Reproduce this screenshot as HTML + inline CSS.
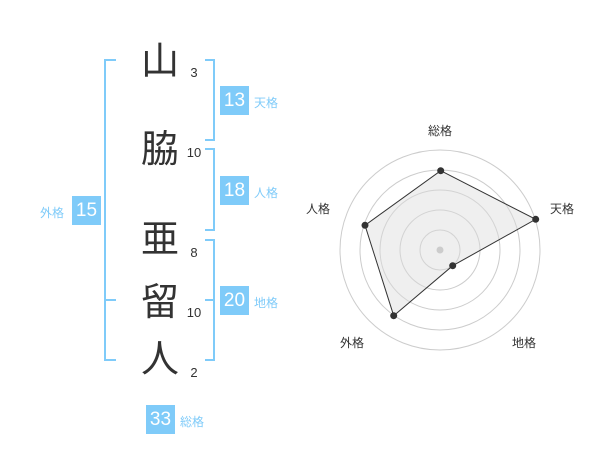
<!DOCTYPE html>
<html><head><meta charset="utf-8"><style>
body{margin:0;width:600px;height:470px;background:#fff;position:relative;overflow:hidden;font-family:"Liberation Sans","Noto Sans CJK JP",sans-serif}
.a{position:absolute}
.k{position:absolute;font-size:38px;color:#333;width:50px;text-align:center;left:135px;line-height:40px}
.n{position:absolute;font-size:13px;color:#333;left:186px;width:16px;text-align:center;line-height:14px}
.b{position:absolute;width:29px;height:29px;background:#7fcbf9;color:#fff;font-size:19px;text-align:center;line-height:29px}
.l{position:absolute;font-size:12px;color:#7fcbf9;line-height:14px}
.ln{position:absolute;background:#7fcbf9}
</style></head><body>
<div class="k" style="top:42px">山</div>
<div class="k" style="top:130px">脇</div>
<div class="k" style="top:220px">亜</div>
<div class="k" style="top:283px">留</div>
<div class="k" style="top:340px">人</div>
<div class="n" style="top:66px">3</div>
<div class="n" style="top:146px">10</div>
<div class="n" style="top:246px">8</div>
<div class="n" style="top:306px">10</div>
<div class="n" style="top:366px">2</div>
<!-- left bracket -->
<div class="ln" style="left:104px;top:59px;width:2px;height:302px"></div>
<div class="ln" style="left:104px;top:59px;width:12px;height:2px"></div>
<div class="ln" style="left:104px;top:299px;width:12px;height:2px"></div>
<div class="ln" style="left:104px;top:359px;width:12px;height:2px"></div>
<!-- right brackets -->
<div class="ln" style="left:213px;top:59px;width:2px;height:82px"></div>
<div class="ln" style="left:205px;top:59px;width:10px;height:2px"></div>
<div class="ln" style="left:205px;top:139px;width:10px;height:2px"></div>
<div class="ln" style="left:213px;top:148px;width:2px;height:83px"></div>
<div class="ln" style="left:205px;top:148px;width:10px;height:2px"></div>
<div class="ln" style="left:205px;top:229px;width:10px;height:2px"></div>
<div class="ln" style="left:213px;top:239px;width:2px;height:122px"></div>
<div class="ln" style="left:205px;top:239px;width:10px;height:2px"></div>
<div class="ln" style="left:205px;top:299px;width:10px;height:2px"></div>
<div class="ln" style="left:205px;top:359px;width:10px;height:2px"></div>
<div class="b" style="left:220px;top:86px">13</div><div class="l" style="left:254px;top:96px">天格</div>
<div class="b" style="left:220px;top:176px">18</div><div class="l" style="left:254px;top:186px">人格</div>
<div class="b" style="left:220px;top:286px">20</div><div class="l" style="left:254px;top:296px">地格</div>
<div class="b" style="left:72px;top:196px">15</div><div class="l" style="left:40px;top:206px">外格</div>
<div class="b" style="left:146px;top:405px">33</div><div class="l" style="left:180px;top:415px">総格</div>
<svg class="a" style="left:0;top:0" width="600" height="470">
<g fill="none" stroke="#ccc" stroke-width="1">
<circle cx="440" cy="250" r="20"/><circle cx="440" cy="250" r="40"/><circle cx="440" cy="250" r="60"/><circle cx="440" cy="250" r="80"/><circle cx="440" cy="250" r="100"/>
</g>
<polygon points="440.7,170.7 535.7,219.3 452.7,265.7 393.7,315.7 365,225.3" fill="rgba(220,220,220,0.45)" stroke="#333" stroke-width="1"/>
<circle cx="440" cy="250" r="3.5" fill="#ccc"/>
<g fill="#333"><circle cx="440.7" cy="170.7" r="3.5"/><circle cx="535.7" cy="219.3" r="3.5"/><circle cx="452.7" cy="265.7" r="3.5"/><circle cx="393.7" cy="315.7" r="3.5"/><circle cx="365" cy="225.3" r="3.5"/></g>
<g font-size="12" fill="#333" text-anchor="middle" font-family="Liberation Sans,Noto Sans CJK JP,sans-serif">
<text x="440" y="135">総格</text><text x="562" y="213">天格</text><text x="524" y="347">地格</text><text x="352" y="347">外格</text><text x="318" y="213">人格</text>
</g>
</svg>
</body></html>
